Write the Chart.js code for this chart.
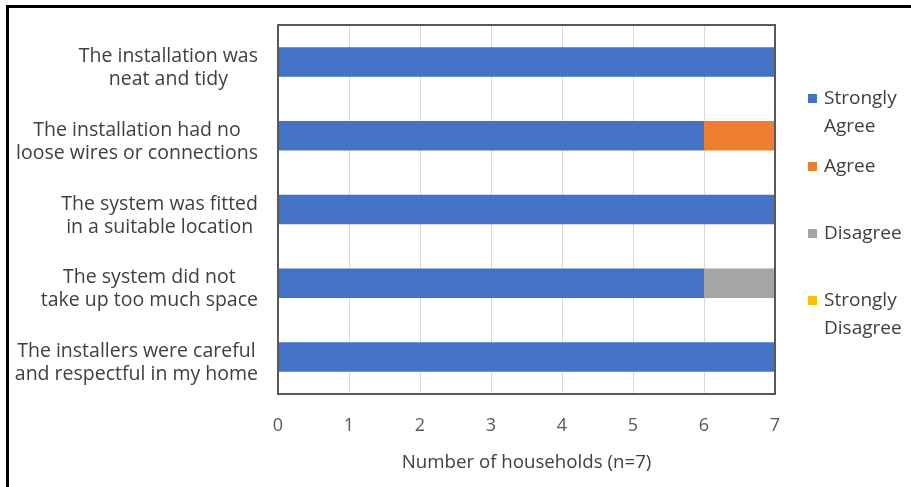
<!DOCTYPE html>
<html>
<head>
<meta charset="utf-8">
<script src="https://cdn.jsdelivr.net/npm/chart.js@4.4.1/dist/chart.umd.min.js"></script>
<style>
  html, body { margin: 0; padding: 0; background: #fff; }
  #wrap { width: 911px; height: 487px; position: relative; }
</style>
</head>
<body>
<div id="wrap"><canvas id="chart" width="911" height="487"></canvas></div>
<script>
// Survey statements (one line per entry)
const statements = [
    ['The installation was', 'neat and tidy'],
    ['The installation had no', 'loose wires or connections'],
    ['The system was fitted', 'in a suitable location'],
    ['The system did not', 'take up too much space'],
    ['The installers were careful', 'and respectful in my home']
];

// Number of households giving each answer
const stronglyAgree    = [7, 6, 7, 6, 7];
const agree            = [0, 1, 0, 0, 0];
const disagree         = [0, 0, 0, 1, 0];
const stronglyDisagree = [0, 0, 0, 0, 0];

const seriesNames = [['Strongly', 'Agree'], ['Agree'], ['Disagree'], ['Strongly', 'Disagree']];
const xTicks = [0, 1, 2, 3, 4, 5, 6, 7];

const FONT = '"Open Sans", "Noto Sans", sans-serif';
const TEXT = '#404040';

// Draws the outer frame, the plot border, the two-line statements and the legend
const decorations = {
    id: 'decorations',
    beforeDraw(chart) {
        const ctx = chart.ctx;
        ctx.save();
        ctx.fillStyle = '#000';
        ctx.fillRect(6, 5, 905, 3);
        ctx.fillRect(6, 5, 3, 482);
        ctx.restore();
    },
    afterDraw(chart) {
        const ctx = chart.ctx;
        const area = chart.chartArea;
        const yScale = chart.scales.y;
        ctx.save();

        // plot border
        ctx.strokeStyle = '#595959';
        ctx.lineWidth = 2;
        ctx.strokeRect(area.left, area.top, area.right - area.left, area.bottom - area.top);

        // statement labels: lines centred, block right-aligned
        ctx.font = '19.5px ' + FONT;
        ctx.fillStyle = TEXT;
        ctx.textAlign = 'center';
        ctx.textBaseline = 'middle';
        const rightEdge = area.left - 20;
        statements.forEach((lines, i) => {
            const y = yScale.getPixelForTick(i) + 6;
            const w = Math.max(...lines.map(l => ctx.measureText(l).width));
            lines.forEach((line, j) => {
                ctx.fillText(line, rightEdge - w / 2, y + (j - (lines.length - 1) / 2) * 23);
            });
        });

        // legend
        const firstLineY = [99, 167, 234, 301];
        ctx.textAlign = 'left';
        ctx.font = '19px ' + FONT;
        chart.data.datasets.forEach((ds, i) => {
            const y0 = firstLineY[i];
            ctx.fillStyle = ds.backgroundColor;
            ctx.fillRect(808, y0 - 5, 9, 9);
            ctx.fillStyle = TEXT;
            seriesNames[i].forEach((line, j) => {
                ctx.fillText(line, 824, y0 + j * 28);
            });
        });
        ctx.restore();
    }
};

const ctx = document.getElementById('chart').getContext('2d');
new Chart(ctx, {
    type: 'bar',
    data: {
        labels: statements.map(s => s.join(' ')),
        datasets: [
            { label: 'Strongly Agree', data: stronglyAgree, backgroundColor: '#4472C4' },
            { label: 'Agree', data: agree, backgroundColor: '#ED7D31' },
            { label: 'Disagree', data: disagree, backgroundColor: '#A5A5A5' },
            { label: 'Strongly Disagree', data: stronglyDisagree, backgroundColor: '#FFC000' }
        ]
    },
    options: {
        indexAxis: 'y',
        responsive: false,
        animation: false,
        datasets: { bar: { barPercentage: 0.8, categoryPercentage: 0.5 } },
        layout: { padding: { top: 25, right: 136, bottom: 0, left: 0 } },
        plugins: {
            legend: { display: false },
            tooltip: { enabled: false }
        },
        scales: {
            x: {
                stacked: true,
                min: 0,
                max: 7,
                afterBuildTicks: scale => { scale.ticks = xTicks.map(v => ({ value: v })); },
                afterFit: scale => { scale.height = 93; },
                grid: { color: '#D9D9D9', lineWidth: 1, drawTicks: false },
                border: { display: false },
                ticks: { color: '#595959', font: { family: FONT, size: 18 }, padding: 21 },
                title: {
                    display: true,
                    text: 'Number of households (n=7)',
                    color: TEXT,
                    font: { family: FONT, size: 18.7 },
                    padding: { top: 4, bottom: 13 }
                }
            },
            y: {
                stacked: true,
                afterFit: scale => { scale.width = 278; },
                grid: { display: false },
                border: { display: false },
                ticks: { display: false }
            }
        }
    },
    plugins: [decorations]
});
</script>
</body>
</html>
